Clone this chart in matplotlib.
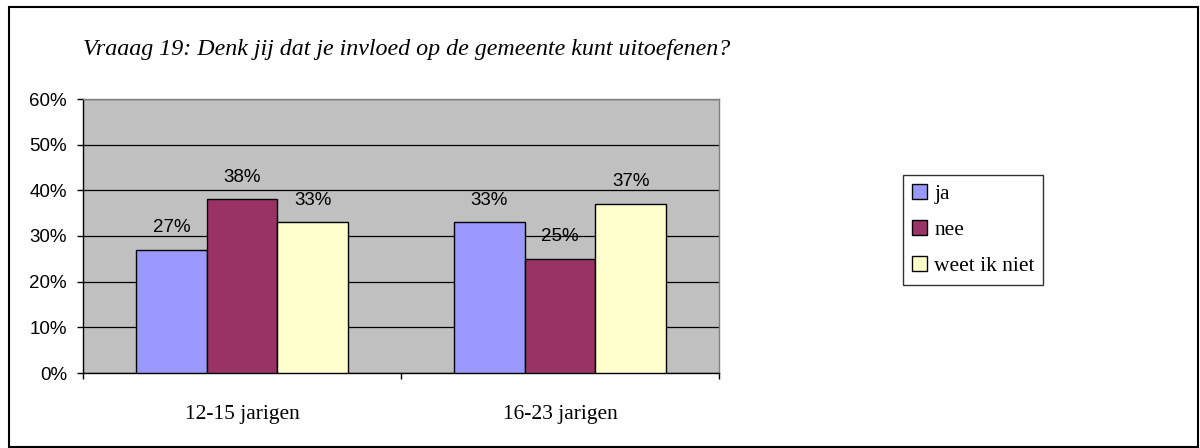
import matplotlib
matplotlib.use('Agg')
from matplotlib import pyplot as plt
from matplotlib.patches import Rectangle
from matplotlib.ticker import MultipleLocator, FuncFormatter
import numpy as np

groups = ['12-15 jarigen', '16-23 jarigen']
series = ['ja', 'nee', 'weet ik niet']
ja = [27, 33]
nee = [38, 25]
weet = [33, 37]
colors = ['#9999FF', '#993366', '#FFFFCC']
title = 'Vraaag 19: Denk jij dat je invloed op de gemeente kunt uitoefenen?'


def main():
    fig = plt.figure(figsize=(12, 4.48), dpi=100)
    ax = fig.add_axes([83 / 1200, 1 - 373 / 448, 636 / 1200, 274 / 448])
    ax.set_facecolor('#C0C0C0')

    x = np.arange(len(groups))
    width = 1 / 4.5
    for i, (name, vals) in enumerate(zip(series, [ja, nee, weet])):
        pos = x + (i - 1) * width
        bars = ax.bar(pos, vals, width, color=colors[i], edgecolor='black',
                      linewidth=1, label=name, zorder=3)
        for b, v in zip(bars, vals):
            ax.annotate(f'{v}%', (b.get_x() + b.get_width() / 2, v),
                        xytext=(0, 16), textcoords='offset points',
                        ha='center', va='center', fontsize=13.5,
                        family='Liberation Sans', zorder=4)

    ax.set_xlim(-0.5, 1.5)
    ax.set_ylim(0, 60)
    ax.yaxis.set_major_locator(MultipleLocator(10))
    ax.yaxis.set_major_formatter(FuncFormatter(lambda v, p: f'{int(v)}%'))
    ax.grid(axis='y', color='black', linewidth=0.9, zorder=1)
    ax.set_axisbelow(True)

    ax.set_xticks(x)
    ax.set_xticklabels(groups, family='Liberation Serif', fontsize=15.5)
    ax.set_xticks([-0.5, 0.5, 1.5], minor=True)
    ax.tick_params(axis='x', which='major', length=0, pad=23)
    ax.tick_params(axis='x', which='minor', length=4.5, width=1, direction='out')
    ax.tick_params(axis='y', length=4.5, width=1, pad=7, labelsize=13.5)
    for lab in ax.get_yticklabels():
        lab.set_family('Liberation Sans')

    ax.spines['left'].set_color('black')
    ax.spines['bottom'].set_color('black')
    ax.spines['top'].set_color('#808080')
    ax.spines['right'].set_color('#808080')
    for s in ax.spines.values():
        s.set_linewidth(1)

    fig.text(83 / 1200, 1 - 50 / 448, title, family='Liberation Serif',
             style='italic', fontsize=17.3, va='center', ha='left')

    handles, labels = ax.get_legend_handles_labels()
    leg = fig.legend(handles, labels, loc='upper left',
                     bbox_to_anchor=(903 / 1200, 1 - 175 / 448),
                     prop={'family': 'Liberation Serif', 'size': 15.5},
                     frameon=True, fancybox=False, edgecolor='black',
                     handlelength=0.7, handleheight=0.7, handletextpad=0.35,
                     labelspacing=0.75, borderaxespad=0, borderpad=0.4)
    leg.get_frame().set_linewidth(1)

    fig.patches.append(Rectangle((9 / 1200, 1 / 448), 1189 / 1200, 440 / 448,
                                 transform=fig.transFigure, fill=False,
                                 edgecolor='black', linewidth=1.5))

    fig.savefig('out.png', dpi=100)


if __name__ == '__main__':
    main()
